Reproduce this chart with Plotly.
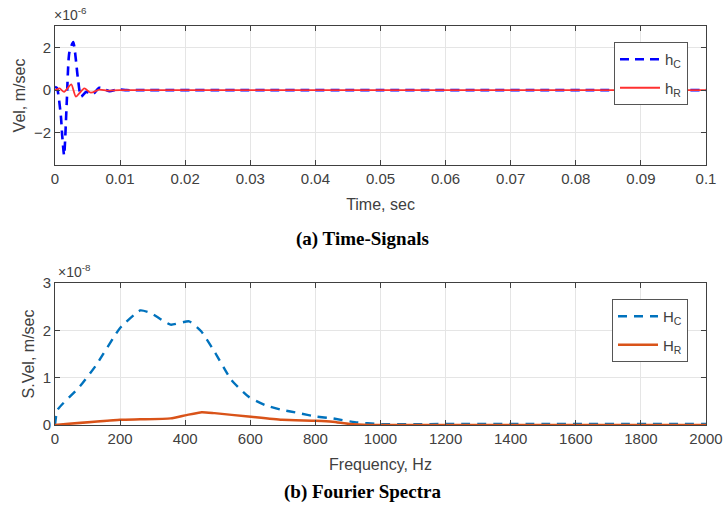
import plotly.graph_objects as go

# ---- Data (a) Time-signals, values in units of 1e-6 m/sec ----
t_c = [0.0, 0.0003, 0.0009, 0.0011, 0.0014, 0.0018, 0.0022, 0.0028, 0.0035, 0.0040,
       0.0048, 0.0058, 0.0068, 0.0076, 0.0084, 0.0096, 0.0110, 0.0130, 0.1]
h_c = [0.15, 0.1, -1.2, -2.1, -3.05, -0.6, 1.75, 2.25, 0.6, -0.3,
       -0.08, -0.19, 0.11, 0.04, -0.05, 0.03, 0.0, 0.0, 0.0]

t_r = [0.0, 0.0007, 0.0014, 0.0025, 0.0032, 0.0045, 0.0055, 0.0068, 0.0080, 0.0100, 0.1]
h_r = [0.0, 0.08, -0.08, 0.27, -0.3, 0.08, -0.12, 0.02, -0.02, 0.0, 0.0]

# ---- Data (b) Fourier spectra, values in units of 1e-8 m/sec ----
f_c = [0, 8, 76, 127, 200, 262, 293, 355, 412, 449, 490, 542, 594, 646, 697, 750,
       801, 853, 921, 998, 1200, 1500, 2000]
H_c = [0.0, 0.32, 0.81, 1.27, 2.05, 2.42, 2.37, 2.12, 2.19, 1.98, 1.55, 0.95, 0.6, 0.42,
       0.32, 0.25, 0.18, 0.14, 0.06, 0.02, 0.02, 0.02, 0.02]

f_r = [0, 200, 262, 355, 404, 451, 490, 594, 697, 801, 853, 905, 967, 1200, 1500, 2000]
H_r = [0.0, 0.11, 0.12, 0.14, 0.21, 0.27, 0.25, 0.18, 0.11, 0.09, 0.07, 0.02, 0.0,
       0.0, 0.0, 0.0]

W, H = 723, 515
def px(v): return v / W
def py(v): return 1 - v / H

x_dom = [px(55), px(706)]
top_dom = [py(165), py(26)]
bot_dom = [py(425), py(283)]

AX = "#404040"
GRID = "#e5e5e5"
FONT = "Liberation Sans, Arial, sans-serif"
SERIF = "Liberation Serif, Times New Roman, serif"

fig = go.Figure()
fig.add_trace(go.Scatter(x=t_c, y=h_c, mode="lines", name="h<sub>C</sub>", legendgroup="a1",
                         line=dict(color="#0000FF", width=2.6, dash="9px,6px", shape="spline", smoothing=0.6),
                         xaxis="x", yaxis="y", legend="legend"))
fig.add_trace(go.Scatter(x=t_r, y=h_r, mode="lines", name="h<sub>R</sub>", legendgroup="a2",
                         line=dict(color="#FF3030", width=1.8, shape="spline", smoothing=0.6),
                         xaxis="x", yaxis="y", legend="legend"))
fig.add_trace(go.Scatter(x=f_c, y=H_c, mode="lines", name="H<sub>C</sub>", legendgroup="b1",
                         line=dict(color="#0072BD", width=2.4, dash="9px,7px", shape="spline", smoothing=0.5),
                         xaxis="x2", yaxis="y2", legend="legend2"))
fig.add_trace(go.Scatter(x=f_r, y=H_r, mode="lines", name="H<sub>R</sub>", legendgroup="b2",
                         line=dict(color="#D95319", width=2.4, shape="spline", smoothing=0.5),
                         xaxis="x2", yaxis="y2", legend="legend2"))

axcommon = dict(showline=True, linecolor=AX, linewidth=1, mirror="ticks", ticks="inside",
                ticklen=5, tickcolor=AX, showgrid=True, gridcolor=GRID, zeroline=False,
                automargin=False, tickfont=dict(family=FONT, size=15, color=AX))
ttl = dict(family=FONT, size=16, color=AX)

legcommon = dict(xanchor="left", yanchor="top", bgcolor="white", bordercolor="#555555",
                 borderwidth=1, font=dict(family=FONT, size=15, color=AX), itemwidth=40,
                 traceorder="grouped", tracegroupgap=6)

fig.update_layout(
    width=W, height=H, margin=dict(l=0, r=0, t=0, b=0),
    paper_bgcolor="white", plot_bgcolor="white", showlegend=True,
    xaxis=dict(domain=x_dom, anchor="y", range=[0, 0.1], dtick=0.01,
               title=dict(text="Time, sec", font=ttl, standoff=12), **axcommon),
    yaxis=dict(domain=top_dom, anchor="x", range=[-3.5, 3], tickvals=[-2, 0, 2],
               title=dict(text="Vel, m/sec", font=ttl, standoff=4), **axcommon),
    xaxis2=dict(domain=x_dom, anchor="y2", range=[0, 2000], dtick=200,
                title=dict(text="Frequency, Hz", font=ttl, standoff=12), **axcommon),
    yaxis2=dict(domain=bot_dom, anchor="x2", range=[0, 3], dtick=1,
                title=dict(text="S.Vel, m/sec", font=ttl, standoff=4), **axcommon),
    legend=dict(x=px(614), y=py(42), **legcommon),
    legend2=dict(x=px(612), y=py(299), **legcommon),
    annotations=[
        dict(text="×10<sup>-6</sup>", x=px(52), y=py(25), xref="paper", yref="paper",
             xanchor="left", yanchor="bottom", showarrow=False,
             font=dict(family=FONT, size=14, color=AX)),
        dict(text="×10<sup>-8</sup>", x=px(56), y=py(282), xref="paper", yref="paper",
             xanchor="left", yanchor="bottom", showarrow=False,
             font=dict(family=FONT, size=14, color=AX)),
        dict(text="<b>(a) Time-Signals</b>", x=px(362), y=py(239), xref="paper", yref="paper",
             xanchor="center", yanchor="middle", showarrow=False,
             font=dict(family=SERIF, size=19, color="black")),
        dict(text="<b>(b) Fourier Spectra</b>", x=px(362), y=py(492), xref="paper", yref="paper",
             xanchor="center", yanchor="middle", showarrow=False,
             font=dict(family=SERIF, size=19, color="black")),
    ],
)

fig.write_html("out.html")
